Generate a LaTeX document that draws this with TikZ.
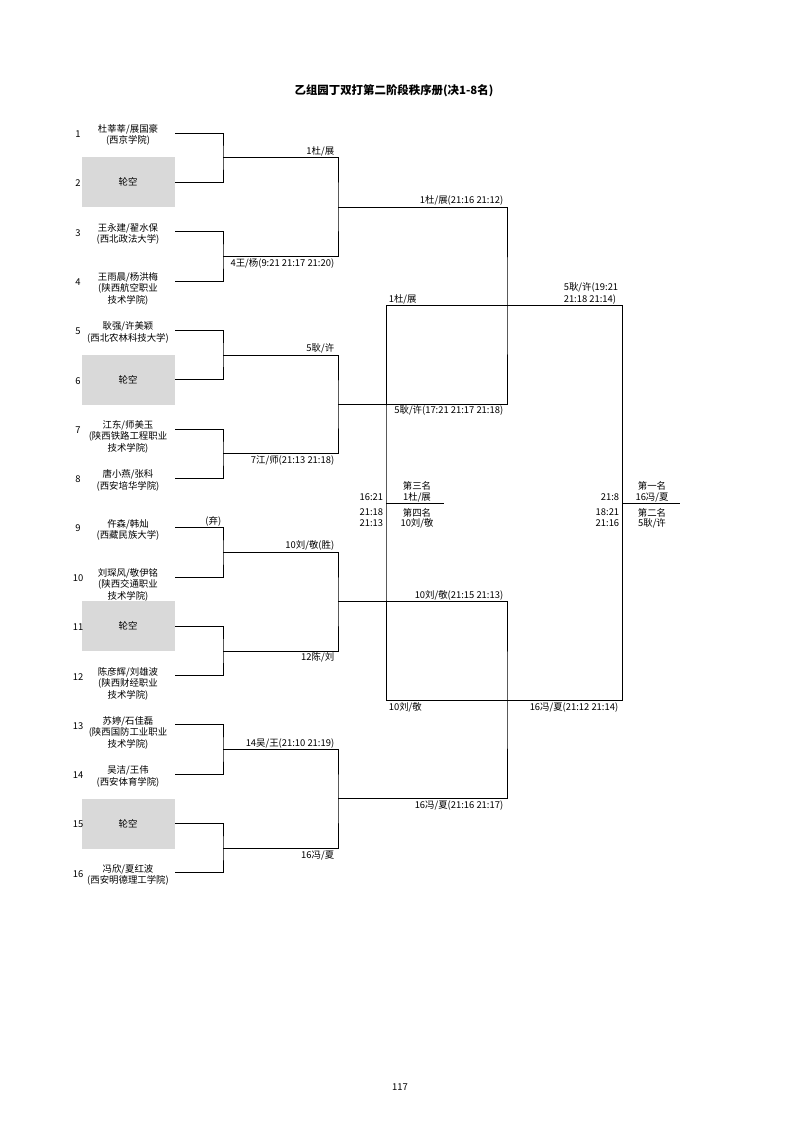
\documentclass[tikz,border=0pt]{standalone}
\usepackage{fontspec}
\setmainfont{Noto Sans CJK SC}
\usepackage{tikz}

\begin{document}
\begin{tikzpicture}[x=0.744pt, y=-0.744pt, line width=0.7pt,
        every node/.style={font=\fontsize{7}{8.6}\selectfont, inner sep=1pt},
        player/.style={anchor=north, align=center, inner sep=0pt},
        byebox/.style={fill=black!15, minimum width=69.2pt, minimum height=37.2pt, inner sep=0pt},
        upr/.style={anchor=south east},
        lwr/.style={anchor=north east}]
            \useasboundingbox (0,0) rectangle (800,1131);

            \node[font=\fontsize{8.5}{10}\selectfont\bfseries] (title) at (394,91)
                {乙组园丁双打第二阶段秩序册(决1-8名)};
            \node (page) at (400,1087) {117};

            % slots and junctions
            \foreach \i in {1,...,16}
                \coordinate (p\i) at (175, {133+(\i-1)*49.33});
            \foreach \k in {1,...,8}
                \coordinate (a\k) at (223, {133+(2*\k-1.5)*49.33});
            \foreach \j in {1,...,4}
                \coordinate (b\j) at (338, {133+(4*\j-2.5)*49.33});
            \foreach \m in {1,2}
                \coordinate (c\m) at (507, {133+(8*\m-4.5)*49.33});
            \coordinate (f) at (622, 503);
            \coordinate (w) at (680, 503);
            \coordinate (t) at (386, 503);
            \coordinate (u) at (444, 503);

            \foreach \i in {2,6,11,15}
                \node[byebox, anchor=east] (n\i) at (p\i) {轮空};
            \foreach \i/\who in {1/{杜莘莘/展国豪\\(西京学院)},
                    3/{王永建/翟水保\\(西北政法大学)},
                    4/{王雨晨/杨洪梅\\(陕西航空职业\\技术学院)},
                    5/{耿强/许美颖\\(西北农林科技大学)},
                    7/{江东/师美玉\\(陕西铁路工程职业\\技术学院)},
                    8/{唐小燕/张科\\(西安培华学院)},
                    9/{仵森/韩灿\\(西藏民族大学)},
                    10/{刘琛风/敬伊铭\\(陕西交通职业\\技术学院)},
                    12/{陈彦辉/刘雄波\\(陕西财经职业\\技术学院)},
                    13/{苏婷/石佳磊\\(陕西国防工业职业\\技术学院)},
                    14/{吴洁/王伟\\(西安体育学院)},
                    16/{冯欣/夏红波\\(西安明德理工学院)}}
                \node[player] (n\i) at (128, {133+(\i-1)*49.33-9}) {\who};
            \foreach \i in {1,...,16}
                \node (s\i) at (78, {134+(\i-1)*49.33}) {\i};

            % brackets
            \foreach \k [evaluate=\k as \u using int(2*\k-1), evaluate=\k as \v using int(2*\k)] in {1,...,8}
                \draw (p\u) -| (a\k) |- (p\v);
            \foreach \j [evaluate=\j as \u using int(2*\j-1), evaluate=\j as \v using int(2*\j)] in {1,...,4}
                \draw (a\u) -| (b\j) |- (a\v);
            \draw (b1) -| (c1) |- (b2);
            \draw (b3) -| (c2) |- (b4);
            \draw (c1) -| (f) |- (c2);
            \draw (f) -- (w);
            \draw (c1) -| (t) |- (c2);
            \draw (t) -- (u);

            % results
            \node[upr] (r1) at (223,528) {(弃)};
            \node[upr] (r2) at (336,158) {1杜/展};
            \node[lwr] (r3) at (336,257) {4王/杨(9:21 21:17 21:20)};
            \node[upr] (r4) at (336,355) {5耿/许};
            \node[lwr] (r5) at (336,454) {7江/师(21:13 21:18)};
            \node[upr] (r6) at (336,552) {10刘/敬(胜)};
            \node[lwr] (r7) at (336,651) {12陈/刘};
            \node[upr] (r8) at (336,750) {14吴/王(21:10 21:19)};
            \node[lwr] (r9) at (336,849) {16冯/夏};
            \node[upr] (q1) at (505,207) {1杜/展(21:16 21:12)};
            \node[lwr] (q2) at (505,404) {5耿/许(17:21 21:17 21:18)};
            \node[upr] (q3) at (505,602) {10刘/敬(21:15 21:13)};
            \node[lwr] (q4) at (505,799) {16冯/夏(21:16 21:17)};
            \node[upr, align=left] (h1) at (620,306) {5耿/许(19:21\\21:18 21:14)};
            \node[lwr] (h2) at (620,701) {16冯/夏(21:12 21:14)};
            \node[anchor=south west] (h3) at (387,306) {1杜/展};
            \node[anchor=north west] (h4) at (387,701) {10刘/敬};

            % places
            \node (g1) at (652,485.5) {第一名};
            \node (g2) at (652,497.5) {16冯/夏};
            \node (g3) at (652,512.5) {第二名};
            \node (g4) at (652,523.5) {5耿/许};
            \node[anchor=east] (k1) at (621,497.5) {21:8};
            \node[anchor=east] (k2) at (621,512.5) {18:21};
            \node[anchor=east] (k3) at (621,523.5) {21:16};
            \node (g5) at (417,485.5) {第三名};
            \node (g6) at (417,497.5) {1杜/展};
            \node (g7) at (417,512.5) {第四名};
            \node (g8) at (417,523.5) {10刘/敬};
            \node[anchor=east] (k4) at (385,497.5) {16:21};
            \node[anchor=east] (k5) at (385,512.5) {21:18};
            \node[anchor=east] (k6) at (385,523.5) {21:13};
\end{tikzpicture}
\end{document}
